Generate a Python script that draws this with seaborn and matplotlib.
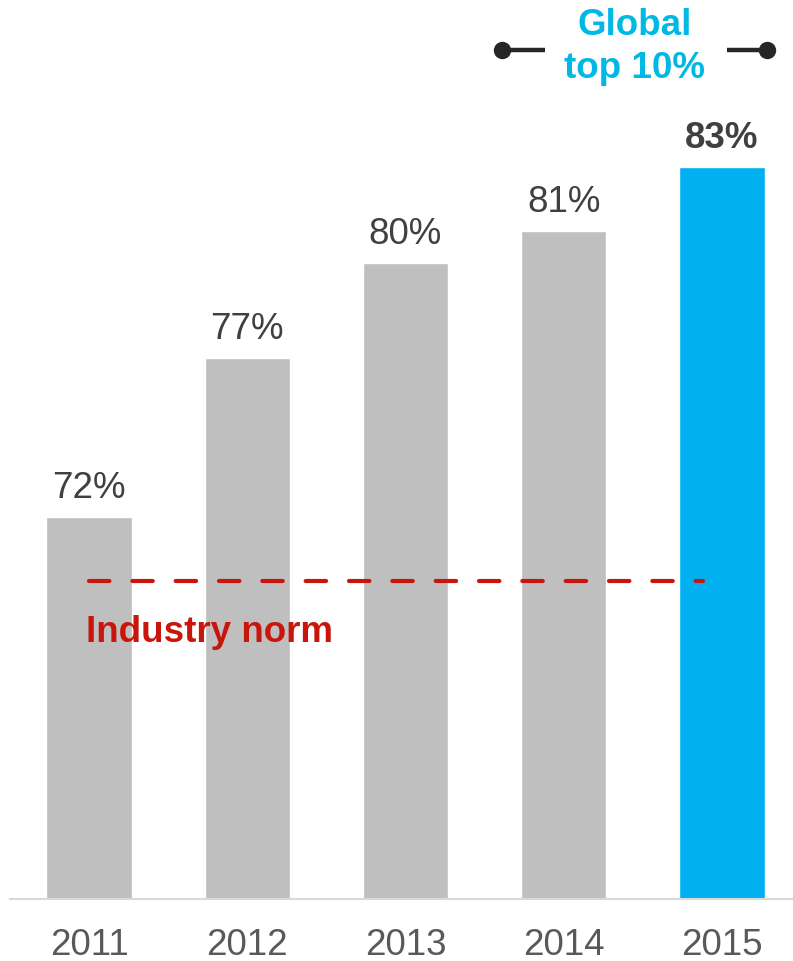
import matplotlib
matplotlib.use("Agg")
import matplotlib.pyplot as plt
import seaborn as sns
import pandas as pd

# data
years = ["2011", "2012", "2013", "2014", "2015"]
scores = [72, 77, 80, 81, 83]
highlight_year = "2015"
industry_norm = 70
norm_label = "Industry norm"
top_label_lines = ["Global", "top 10%"]

GREY = "#bfbfbf"
BLUE = "#00b0f0"
RED = "#c8160c"
CYAN = "#00b8e4"
DARK = "#262626"
VALUE_C = "#404040"
TICK_C = "#595959"
FS = 26.5

sns.set_style("white")
plt.rcParams["font.family"] = ["Liberation Sans", "DejaVu Sans"]

W, H = 793, 961
fig = plt.figure(figsize=(W / 100, H / 100), dpi=100)
ax = fig.add_axes([10 / W, 62.5 / H, 783 / W, 898.5 / H])

df = pd.DataFrame({"year": years, "score": scores})
palette = {y: (BLUE if y == highlight_year else GREY) for y in years}
sns.barplot(data=df, x="year", y="score", hue="year", palette=palette,
            width=0.54, saturation=1, legend=False, ax=ax)

ax.set_ylim(60, 60 + 898.5 / 31.8)
ax.set_xlim(-0.5, 4.45)
ax.set_xlabel("")
ax.set_ylabel("")
ax.set_yticks([])
sns.despine(ax=ax, left=True)
ax.spines["bottom"].set_color("#d9d9d9")
ax.spines["bottom"].set_linewidth(1.5)
ax.tick_params(axis="x", length=0, pad=21, labelsize=FS, labelcolor=TICK_C)

# value labels
for i, (yr, v) in enumerate(zip(years, scores)):
    hl = yr == highlight_year
    ax.annotate(f"{v}%", xy=(i, v), xytext=(0, 19), textcoords="offset pixels",
                ha="center", va="baseline", fontsize=FS, color=VALUE_C,
                fontweight="bold" if hl else "normal")

# industry norm dashed line
ax.plot([0, len(years) - 1 - 0.12], [industry_norm, industry_norm], color=RED,
        lw=3.0, linestyle=(0, (4.9, 5.5)), dash_capstyle="round", zorder=3)
ax.annotate(norm_label, xy=(0, industry_norm), xytext=(-3, -62),
            textcoords="offset pixels",
            ha="left", va="baseline", fontsize=FS, fontweight="bold", color=RED)

# "Global top 10%" callout anchored on the highlighted bar
hi = years.index(highlight_year)
anchor = (hi, scores[hi])


def px(dx, dy):
    x0, y0 = ax.transData.transform(anchor)
    return ax.transData.inverted().transform((x0 + dx, y0 + dy))


for line, dy in zip(top_label_lines, [132, 89]):
    tx, ty = px(-87, dy)
    ax.text(tx, ty, line, ha="center", va="baseline", fontsize=FS,
            fontweight="bold", color=CYAN, clip_on=False)

for (xa, xb, dot) in [(-220, -177, -220), (5, 45, 45)]:
    (x1, yb), (x2, _) = px(xa, 117), px(xb, 117)
    ax.plot([x1, x2], [yb, yb], color=DARK, lw=3.2, solid_capstyle="butt",
            clip_on=False)
    dx_, _ = px(dot, 117)
    ax.plot([dx_], [yb], "o", color=DARK, markersize=11.5, clip_on=False)

fig.savefig("out.png", dpi=100, facecolor="white")
